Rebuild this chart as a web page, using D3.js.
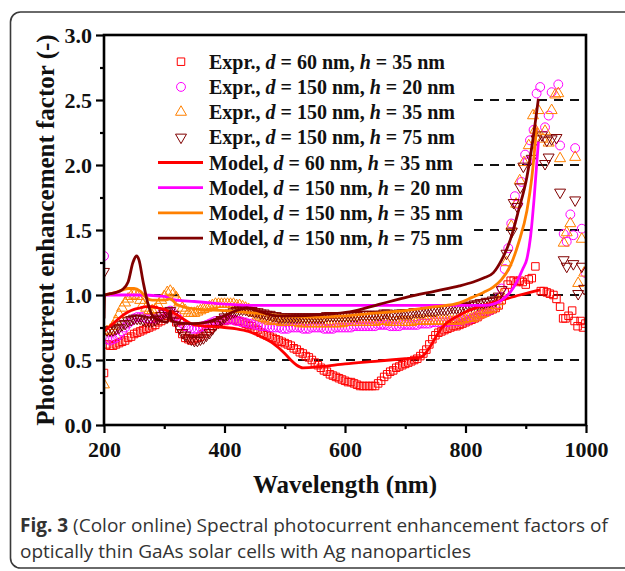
<!DOCTYPE html>
<html>
<head>
<meta charset="utf-8">
<script src="https://cdn.jsdelivr.net/npm/d3@7"></script>
<style>
  body { margin: 0; background: #fff; }
  svg { display: block; }
</style>
</head>
<body>
<svg id="chart" width="625" height="571"></svg>
<script>
// experimental points [wavelength nm, enhancement factor]
const exprD60H35 = [
  [200, 0.40], [205, 0.62], [210, 0.61], [215, 0.61], [220, 0.62], [225, 0.63], [230, 0.64],
  [235, 0.65], [240, 0.67], [245, 0.68], [250, 0.70], [255, 0.71], [260, 0.72], [265, 0.73],
  [270, 0.74], [275, 0.75], [280, 0.76], [285, 0.77], [290, 0.79], [295, 0.80], [300, 0.82],
  [305, 0.84], [310, 0.85], [315, 0.83], [320, 0.79], [325, 0.74], [330, 0.70], [335, 0.67],
  [340, 0.66], [345, 0.65], [350, 0.66], [355, 0.67], [360, 0.68], [365, 0.70], [370, 0.72],
  [375, 0.74], [380, 0.76], [385, 0.78], [390, 0.79], [395, 0.80], [400, 0.80], [405, 0.81],
  [410, 0.81], [415, 0.81], [420, 0.80], [425, 0.80], [430, 0.79], [435, 0.78], [440, 0.77],
  [445, 0.76], [450, 0.74], [455, 0.73], [460, 0.71], [465, 0.70], [470, 0.69], [475, 0.68],
  [480, 0.67], [485, 0.66], [490, 0.65], [495, 0.64], [500, 0.63], [505, 0.62], [510, 0.61],
  [515, 0.59], [520, 0.58], [525, 0.56], [530, 0.55], [535, 0.53], [540, 0.52], [545, 0.50],
  [550, 0.48], [555, 0.46], [560, 0.44], [565, 0.42], [570, 0.41], [575, 0.39], [580, 0.38],
  [585, 0.37], [590, 0.36], [595, 0.35], [600, 0.34], [605, 0.33], [610, 0.33], [615, 0.32],
  [620, 0.31], [625, 0.30], [630, 0.30], [635, 0.30], [640, 0.30], [645, 0.30], [650, 0.30],
  [655, 0.32], [660, 0.34], [665, 0.37], [670, 0.39], [675, 0.41], [680, 0.42], [685, 0.44],
  [690, 0.45], [695, 0.46], [700, 0.47], [705, 0.48], [710, 0.49], [715, 0.50], [720, 0.51],
  [725, 0.53], [730, 0.55], [735, 0.58], [740, 0.62], [745, 0.66], [750, 0.69], [755, 0.71],
  [760, 0.72], [765, 0.73], [770, 0.74], [775, 0.75], [780, 0.76], [785, 0.76], [790, 0.77],
  [795, 0.78], [800, 0.79], [805, 0.80], [810, 0.81], [815, 0.82], [820, 0.83], [825, 0.85],
  [830, 0.86], [835, 0.87], [840, 0.88], [845, 0.89], [850, 0.90], [855, 0.92], [860, 0.96],
  [865, 1.02], [870, 1.08], [875, 1.11], [880, 1.11], [885, 1.10], [890, 1.11], [895, 1.10],
  [900, 1.08], [905, 1.12], [910, 1.13], [916, 1.22], [925, 1.03], [930, 1.03], [935, 1.02],
  [940, 1.01], [946, 1.00], [951, 0.97], [957, 0.91], [962, 0.82], [966, 0.82], [971, 0.84],
  [977, 0.88], [981, 0.80], [986, 0.76], [991, 0.80], [995, 0.75], [999, 0.78]
]
const exprD150H20 = [
  [200, 1.30], [205, 0.66], [210, 0.65], [215, 0.66], [220, 0.67], [225, 0.69], [230, 0.72],
  [235, 0.75], [240, 0.78], [245, 0.80], [250, 0.82], [255, 0.83], [260, 0.83], [265, 0.83],
  [270, 0.82], [275, 0.82], [280, 0.82], [285, 0.82], [290, 0.83], [295, 0.85], [300, 0.86],
  [305, 0.87], [310, 0.88], [315, 0.86], [320, 0.84], [325, 0.81], [330, 0.78], [335, 0.76],
  [340, 0.75], [345, 0.74], [350, 0.74], [355, 0.74], [360, 0.75], [365, 0.76], [370, 0.77],
  [375, 0.78], [380, 0.79], [385, 0.80], [390, 0.80], [395, 0.81], [400, 0.81], [405, 0.81],
  [410, 0.81], [415, 0.81], [420, 0.80], [425, 0.80], [430, 0.79], [435, 0.79], [440, 0.78],
  [445, 0.78], [450, 0.77], [455, 0.77], [460, 0.76], [465, 0.76], [470, 0.76], [475, 0.75],
  [480, 0.75], [485, 0.75], [490, 0.75], [495, 0.74], [500, 0.74], [505, 0.74], [510, 0.75],
  [515, 0.75], [520, 0.75], [525, 0.75], [530, 0.74], [535, 0.74], [540, 0.74], [545, 0.75],
  [550, 0.75], [555, 0.75], [560, 0.75], [565, 0.74], [570, 0.74], [575, 0.74], [580, 0.74],
  [585, 0.75], [590, 0.75], [595, 0.75], [600, 0.75], [605, 0.75], [610, 0.75], [615, 0.76],
  [620, 0.76], [625, 0.76], [630, 0.76], [635, 0.76], [640, 0.76], [645, 0.76], [650, 0.76],
  [655, 0.77], [660, 0.77], [665, 0.77], [670, 0.77], [675, 0.76], [680, 0.76], [685, 0.76],
  [690, 0.76], [695, 0.77], [700, 0.77], [705, 0.77], [710, 0.77], [715, 0.77], [720, 0.77],
  [725, 0.78], [730, 0.78], [735, 0.78], [740, 0.78], [745, 0.79], [750, 0.79], [755, 0.79],
  [760, 0.79], [765, 0.79], [770, 0.79], [775, 0.80], [780, 0.80], [785, 0.80], [790, 0.80],
  [795, 0.81], [800, 0.81], [805, 0.81], [810, 0.82], [815, 0.83], [820, 0.84], [825, 0.85],
  [830, 0.86], [835, 0.87], [840, 0.88], [845, 0.90], [850, 0.93], [855, 0.98], [860, 1.05],
  [865, 1.20], [871, 1.36], [876, 1.55], [882, 1.76], [887, 1.70], [893, 1.87], [899, 2.08],
  [903, 2.03], [907, 2.19], [913, 2.27], [918, 2.55], [924, 2.60], [932, 2.29], [938, 2.38],
  [943, 2.56], [954, 2.62], [957, 2.15], [963, 1.47], [968, 1.41], [974, 1.62], [979, 1.46],
  [982, 2.13], [993, 1.51], [999, 1.17]
]
const exprD150H35 = [
  [200, 0.31], [205, 0.72], [210, 0.73], [215, 0.76], [220, 0.80], [225, 0.85], [230, 0.90],
  [235, 0.94], [240, 0.97], [245, 0.99], [250, 1.00], [255, 0.99], [260, 0.96], [265, 0.93],
  [270, 0.90], [275, 0.88], [280, 0.88], [285, 0.89], [290, 0.92], [295, 0.96], [300, 0.99],
  [305, 1.02], [310, 1.03], [315, 1.01], [320, 0.98], [325, 0.94], [330, 0.90], [335, 0.88],
  [340, 0.86], [345, 0.86], [350, 0.86], [355, 0.87], [360, 0.88], [365, 0.89], [370, 0.90],
  [375, 0.91], [380, 0.92], [385, 0.93], [390, 0.93], [395, 0.93], [400, 0.93], [405, 0.93],
  [410, 0.93], [415, 0.93], [420, 0.92], [425, 0.92], [430, 0.91], [435, 0.90], [440, 0.89],
  [445, 0.87], [450, 0.86], [455, 0.84], [460, 0.83], [465, 0.82], [470, 0.81], [475, 0.80],
  [480, 0.80], [485, 0.80], [490, 0.80], [495, 0.79], [500, 0.79], [505, 0.79], [510, 0.79],
  [515, 0.79], [520, 0.79], [525, 0.78], [530, 0.78], [535, 0.78], [540, 0.78], [545, 0.78],
  [550, 0.78], [555, 0.78], [560, 0.78], [565, 0.78], [570, 0.78], [575, 0.78], [580, 0.78],
  [585, 0.78], [590, 0.78], [595, 0.78], [600, 0.79], [605, 0.79], [610, 0.79], [615, 0.79],
  [620, 0.79], [625, 0.79], [630, 0.79], [635, 0.79], [640, 0.79], [645, 0.79], [650, 0.79],
  [655, 0.80], [660, 0.80], [665, 0.80], [670, 0.80], [675, 0.79], [680, 0.79], [685, 0.79],
  [690, 0.79], [695, 0.79], [700, 0.79], [705, 0.79], [710, 0.79], [715, 0.80], [720, 0.80],
  [725, 0.80], [730, 0.80], [735, 0.80], [740, 0.80], [745, 0.80], [750, 0.80], [755, 0.80],
  [760, 0.80], [765, 0.80], [770, 0.80], [775, 0.80], [780, 0.80], [785, 0.80], [790, 0.80],
  [795, 0.81], [800, 0.81], [805, 0.82], [810, 0.82], [815, 0.83], [820, 0.84], [825, 0.85],
  [830, 0.86], [835, 0.88], [840, 0.89], [845, 0.90], [850, 0.92], [855, 0.95], [860, 1.00],
  [868, 1.25], [876, 1.53], [884, 1.70], [890, 1.88], [897, 2.02], [905, 2.15], [912, 2.38],
  [916, 2.27], [921, 2.42], [928, 2.20], [932, 2.26], [938, 2.17], [943, 2.42], [949, 2.54],
  [954, 2.55], [957, 2.05], [963, 1.40], [968, 1.48], [974, 1.55], [982, 2.06], [987, 1.09],
  [993, 1.43], [997, 1.17]
]
const exprD150H75 = [
  [200, 1.18], [205, 0.73], [210, 0.73], [215, 0.73], [220, 0.74], [225, 0.75], [230, 0.77],
  [235, 0.78], [240, 0.80], [245, 0.81], [250, 0.82], [255, 0.82], [260, 0.82], [265, 0.81],
  [270, 0.80], [275, 0.80], [280, 0.80], [285, 0.81], [290, 0.82], [295, 0.84], [300, 0.86],
  [305, 0.87], [310, 0.88], [315, 0.85], [320, 0.80], [325, 0.75], [330, 0.71], [335, 0.69],
  [340, 0.67], [345, 0.66], [350, 0.65], [355, 0.65], [360, 0.66], [365, 0.67], [370, 0.69],
  [375, 0.71], [380, 0.74], [385, 0.77], [390, 0.79], [395, 0.81], [400, 0.83], [405, 0.85],
  [410, 0.86], [415, 0.87], [420, 0.88], [425, 0.89], [430, 0.89], [435, 0.89], [440, 0.88],
  [445, 0.88], [450, 0.87], [455, 0.87], [460, 0.86], [465, 0.86], [470, 0.85], [475, 0.85],
  [480, 0.84], [485, 0.84], [490, 0.83], [495, 0.83], [500, 0.83], [505, 0.83], [510, 0.83],
  [515, 0.83], [520, 0.83], [525, 0.83], [530, 0.83], [535, 0.83], [540, 0.83], [545, 0.83],
  [550, 0.83], [555, 0.83], [560, 0.83], [565, 0.83], [570, 0.84], [575, 0.84], [580, 0.84],
  [585, 0.84], [590, 0.84], [595, 0.84], [600, 0.84], [605, 0.84], [610, 0.84], [615, 0.84],
  [620, 0.84], [625, 0.85], [630, 0.85], [635, 0.85], [640, 0.85], [645, 0.85], [650, 0.85],
  [655, 0.85], [660, 0.85], [665, 0.86], [670, 0.86], [675, 0.85], [680, 0.85], [685, 0.85],
  [690, 0.86], [695, 0.86], [700, 0.86], [705, 0.86], [710, 0.86], [715, 0.87], [720, 0.87],
  [725, 0.87], [730, 0.87], [735, 0.88], [740, 0.88], [745, 0.88], [750, 0.88], [755, 0.89],
  [760, 0.89], [765, 0.89], [770, 0.89], [775, 0.90], [780, 0.90], [785, 0.90], [790, 0.90],
  [795, 0.91], [800, 0.91], [805, 0.92], [810, 0.92], [815, 0.93], [820, 0.93], [825, 0.94],
  [830, 0.94], [835, 0.95], [840, 0.95], [845, 0.96], [850, 0.96], [855, 0.99], [860, 1.04],
  [868, 1.32], [877, 1.49], [880, 1.71], [886, 1.68], [891, 1.83], [896, 1.99], [910, 2.05],
  [918, 2.20], [927, 2.23], [932, 2.01], [935, 2.19], [938, 2.06], [943, 2.20], [951, 2.21],
  [957, 1.79], [963, 1.27], [968, 1.22], [979, 1.24], [982, 1.73], [987, 1.01], [993, 1.22],
  [997, 1.05]
]

// model curves
const modelD60H35 = [
  [200, 0.72], [210, 0.76], [220, 0.80], [230, 0.84], [240, 0.87], [250, 0.89], [260, 0.90],
  [270, 0.91], [280, 0.91], [290, 0.90], [300, 0.89], [308, 0.87], [310, 0.80], [312, 0.87],
  [320, 0.85], [330, 0.82], [340, 0.79], [350, 0.77], [370, 0.76], [400, 0.75], [420, 0.74],
  [440, 0.72], [460, 0.68], [480, 0.63], [500, 0.55], [510, 0.50], [520, 0.46], [530, 0.44],
  [560, 0.45], [600, 0.47], [650, 0.49], [700, 0.51], [725, 0.52], [735, 0.56], [745, 0.63],
  [755, 0.71], [765, 0.77], [780, 0.82], [800, 0.87], [830, 0.92], [860, 0.96], [890, 1.00],
  [924, 1.04]
]
const modelD150H20 = [
  [200, 1.00], [250, 1.00], [300, 0.99], [310, 0.97], [320, 0.96], [350, 0.95], [400, 0.93],
  [450, 0.92], [500, 0.92], [600, 0.92], [700, 0.92], [800, 0.92], [830, 0.92], [846, 0.93],
  [860, 0.96], [874, 1.02], [885, 1.10], [895, 1.20], [902, 1.28], [908, 1.45], [914, 1.75],
  [921, 2.18]
]
const modelD150H35 = [
  [200, 1.00], [220, 1.02], [240, 1.05], [250, 1.05], [260, 1.03], [270, 0.98], [280, 0.96],
  [290, 0.96], [300, 0.96], [310, 0.97], [320, 0.93], [340, 0.90], [360, 0.89], [400, 0.88],
  [450, 0.86], [500, 0.84], [550, 0.83], [600, 0.84], [650, 0.86], [700, 0.88], [750, 0.91],
  [790, 0.94], [810, 0.98], [830, 1.02], [846, 1.06], [860, 1.12], [874, 1.22], [888, 1.40],
  [902, 1.65], [910, 1.90], [918, 2.29]
]
const modelD150H75 = [
  [200, 0.82], [201, 1.00], [210, 1.01], [220, 1.02], [230, 1.04], [240, 1.10], [248, 1.25],
  [254, 1.30], [258, 1.27], [265, 1.10], [272, 0.95], [282, 0.83], [295, 0.80], [305, 0.79],
  [310, 0.88], [312, 0.80], [320, 0.79], [343, 0.78], [370, 0.79], [400, 0.84], [420, 0.88],
  [437, 0.90], [460, 0.87], [487, 0.84], [520, 0.84], [560, 0.85], [608, 0.87], [658, 0.93],
  [700, 0.98], [750, 1.03], [790, 1.07], [813, 1.10], [830, 1.13], [846, 1.17], [860, 1.27],
  [874, 1.42], [888, 1.65], [902, 1.91], [912, 2.20], [921, 2.51]
]

const xTicks = [200, 400, 600, 800, 1000]
const xMinor = [300, 500, 700, 900]
const yTicks = [0, 0.5, 1.0, 1.5, 2.0, 2.5, 3.0]
const yMinor = [0.25, 0.75, 1.25, 1.75, 2.25, 2.75]
const gridLevels = [0.5, 1.0, 1.5, 2.0, 2.5]

const series = [
  { label: ['Expr.', '60', '35'], data: exprD60H35, color: '#ff0000', shape: 'square' },
  { label: ['Expr.', '150', '20'], data: exprD150H20, color: '#ff00ff', shape: 'circle' },
  { label: ['Expr.', '150', '35'], data: exprD150H35, color: '#ff8000', shape: 'up' },
  { label: ['Expr.', '150', '75'], data: exprD150H75, color: '#800000', shape: 'down' },
  { label: ['Model', '60', '35'], data: modelD60H35, color: '#ff0000', shape: 'line' },
  { label: ['Model', '150', '20'], data: modelD150H20, color: '#ff00ff', shape: 'line' },
  { label: ['Model', '150', '35'], data: modelD150H35, color: '#ff8000', shape: 'line' },
  { label: ['Model', '150', '75'], data: modelD150H75, color: '#800000', shape: 'line' }
]

const serif = '"Liberation Serif", "Times New Roman", serif'
const plot = { left: 104, right: 586, top: 35, bottom: 425 }

const svg = d3.select('#chart')

const x = d3.scaleLinear().domain([200, 1000]).range([plot.left, plot.right])
const y = d3.scaleLinear().domain([0, 3]).range([plot.bottom, plot.top])

// outer figure frame
svg.append('rect')
  .attr('x', 10.5).attr('y', 12)
  .attr('width', 700).attr('height', 556)
  .attr('rx', 10)
  .attr('fill', 'none')
  .attr('stroke', '#3a3a3a')
  .attr('stroke-width', 1.6)

svg.append('clipPath').attr('id', 'plotClip')
  .append('rect')
  .attr('x', plot.left).attr('y', plot.top)
  .attr('width', plot.right - plot.left)
  .attr('height', plot.bottom - plot.top)

// dashed reference lines
svg.append('g').selectAll('line')
  .data(gridLevels)
  .enter().append('line')
  .attr('x1', plot.left + 2).attr('x2', plot.right - 4)
  .attr('y1', d => y(d)).attr('y2', d => y(d))
  .attr('stroke', '#111')
  .attr('stroke-width', 1.8)
  .attr('stroke-dasharray', '9,7')

function symbolPath (shape, size) {
  if (shape === 'square') return d3.symbol(d3.symbolSquare, size)()
  if (shape === 'circle') return d3.symbol(d3.symbolCircle, size)()
  return d3.symbol(d3.symbolTriangle, size)()
}
const symbolSize = { square: 56, circle: 62, up: 52, down: 52 }

const plotArea = svg.append('g').attr('clip-path', 'url(#plotClip)')

series.filter(s => s.shape !== 'line').forEach(s => {
  plotArea.append('g').selectAll('path')
    .data(s.data)
    .enter().append('path')
    .attr('d', symbolPath(s.shape, symbolSize[s.shape]))
    .attr('transform', d => `translate(${x(d[0])},${y(d[1])})` + (s.shape === 'down' ? ' rotate(180)' : ''))
    .attr('fill', 'none')
    .attr('stroke', s.color)
    .attr('stroke-width', 1)
})

const line = d3.line()
  .x(d => x(d[0]))
  .y(d => y(d[1]))
  .curve(d3.curveMonotoneX)

series.filter(s => s.shape === 'line').forEach(s => {
  plotArea.append('path')
    .datum(s.data)
    .attr('d', line)
    .attr('fill', 'none')
    .attr('stroke', s.color)
    .attr('stroke-width', 2.8)
    .attr('stroke-linejoin', 'round')
})

// legend
const legend = svg.append('g')
legend.append('rect')
  .attr('x', plot.left + 2).attr('y', 46)
  .attr('width', 368).attr('height', 202)
  .attr('fill', '#fff')

const rowY = i => 61.7 + i * 25.2
series.forEach((s, i) => {
  const row = legend.append('g').attr('transform', `translate(0,${rowY(i)})`)
  if (s.shape === 'line') {
    row.append('line')
      .attr('x1', 158).attr('x2', 203)
      .attr('stroke', s.color)
      .attr('stroke-width', 2.8)
  } else {
    row.append('path')
      .attr('d', symbolPath(s.shape, symbolSize[s.shape]))
      .attr('transform', 'translate(181,0)' + (s.shape === 'down' ? ' rotate(180)' : ''))
      .attr('fill', 'none')
      .attr('stroke', s.color)
      .attr('stroke-width', 1)
  }
  const t = row.append('text')
    .attr('x', 209).attr('y', 7)
    .attr('font-family', serif)
    .attr('font-weight', 'bold')
    .attr('font-size', 20)
    .attr('fill', '#111')
  t.append('tspan').text(s.label[0] + ', ')
  t.append('tspan').attr('font-style', 'italic').text('d')
  t.append('tspan').text(` = ${s.label[1]} nm, `)
  t.append('tspan').attr('font-style', 'italic').text('h')
  t.append('tspan').text(` = ${s.label[2]} nm`)
})

// plot frame
svg.append('rect')
  .attr('x', plot.left).attr('y', plot.top)
  .attr('width', plot.right - plot.left)
  .attr('height', plot.bottom - plot.top)
  .attr('fill', 'none')
  .attr('stroke', '#000')
  .attr('stroke-width', 2.6)

// axes
function styleAxis (g) {
  g.select('.domain').remove()
  g.selectAll('line').attr('stroke', '#000').attr('stroke-width', 2.2)
  g.selectAll('text')
    .attr('font-family', serif)
    .attr('font-weight', 'bold')
    .attr('font-size', 22)
    .attr('fill', '#111')
}

svg.append('g')
  .attr('transform', `translate(0,${plot.bottom})`)
  .call(d3.axisBottom(x).tickValues(xTicks).tickSize(8).tickPadding(8).tickFormat(d3.format('d')))
  .call(styleAxis)
svg.append('g')
  .attr('transform', `translate(0,${plot.bottom})`)
  .call(d3.axisBottom(x).tickValues(xMinor).tickSize(4).tickFormat(''))
  .call(styleAxis)

svg.append('g')
  .attr('transform', `translate(${plot.left},0)`)
  .call(d3.axisLeft(y).tickValues(yTicks).tickSize(8).tickPadding(4).tickFormat(d3.format('.1f')))
  .call(styleAxis)
svg.append('g')
  .attr('transform', `translate(${plot.left},0)`)
  .call(d3.axisLeft(y).tickValues(yMinor).tickSize(4).tickFormat(''))
  .call(styleAxis)

// axis titles
svg.append('text')
  .attr('x', (plot.left + plot.right) / 2)
  .attr('y', 493)
  .attr('text-anchor', 'middle')
  .attr('font-family', serif)
  .attr('font-weight', 'bold')
  .attr('font-size', 25)
  .attr('fill', '#111')
  .text('Wavelength (nm)')

svg.append('text')
  .attr('transform', `translate(54,${(plot.top + plot.bottom) / 2}) rotate(-90)`)
  .attr('text-anchor', 'middle')
  .attr('font-family', serif)
  .attr('font-weight', 'bold')
  .attr('font-size', 25)
  .attr('fill', '#111')
  .text('Photocurrent enhancement factor (-)')

// caption
const caption = svg.append('text')
  .attr('font-family', '"Open Sans", "Noto Sans", sans-serif')
  .attr('font-size', 19)
  .attr('fill', '#333')
const c1 = caption.append('tspan').attr('x', 20).attr('y', 532)
c1.append('tspan').attr('font-weight', 'bold').text('Fig. 3')
c1.append('tspan').text(' (Color online) Spectral photocurrent enhancement factors of')
caption.append('tspan').attr('x', 20).attr('y', 558)
  .text('optically thin GaAs solar cells with Ag nanoparticles')
</script>
</body>
</html>
